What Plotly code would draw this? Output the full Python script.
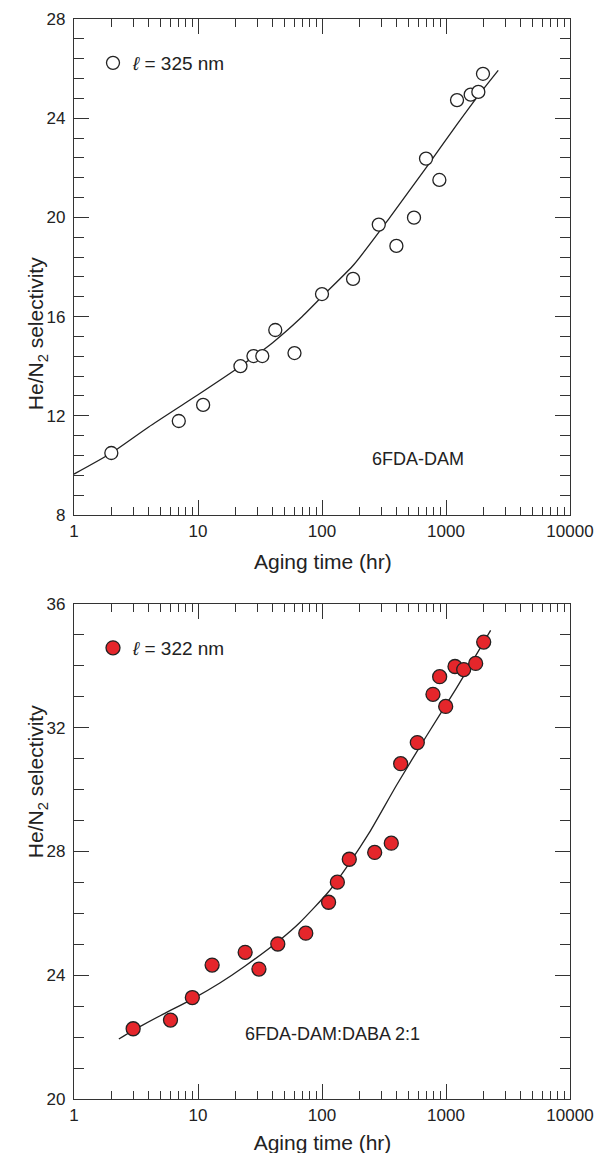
import plotly.graph_objects as go

# ---------------- data ----------------
# Top panel: 6FDA-DAM, l = 325 nm
top_time = [2, 7, 11, 22, 28, 33, 42, 60, 100, 178, 287, 398, 552, 690, 884, 1227, 1582, 1823, 1987]
top_sel = [10.5, 11.79, 12.44, 14.0, 14.41, 14.41, 15.46, 14.53, 16.91, 17.52, 19.71, 18.85, 19.99,
           22.37, 21.51, 24.73, 24.95, 25.06, 25.79]
top_fit_time = [1, 2, 4, 10, 22, 40, 66, 102, 181, 353, 690, 1227, 1880, 2637]
top_fit_sel = [9.65, 10.5, 11.55, 12.85, 14.0, 14.95, 15.9, 16.85, 18.1, 20.0, 22.0, 23.75, 25.0, 25.93]

# Bottom panel: 6FDA-DAM:DABA 2:1, l = 322 nm
bot_time = [3, 6, 9, 13, 24, 31, 44, 74, 113, 133, 166, 266, 362, 431, 587, 785, 889, 994,
            1182, 1389, 1735, 2014]
bot_sel = [22.27, 22.55, 23.28, 24.33, 24.74, 24.2, 25.01, 25.36, 26.36, 27.01, 27.75, 27.97,
           28.27, 30.84, 31.52, 33.08, 33.65, 32.69, 33.98, 33.88, 34.08, 34.77]
bot_fit_time = [2.3, 3, 5, 9, 15, 24, 46, 66, 113, 166, 240, 400, 700, 1200, 2290]
bot_fit_sel = [21.94, 22.22, 22.7, 23.23, 23.75, 24.3, 25.15, 25.7, 26.7, 27.62, 28.6, 30.15, 31.75, 33.25, 35.15]

x_tickvals = [1, 10, 100, 1000, 10000]
x_ticktext = ["1", "10", "100", "1000", "10000"]
top_label = "6FDA-DAM"
bot_label = "6FDA-DAM:DABA 2:1"
top_legend = "<i>ℓ</i> = 325 nm"
bot_legend = "<i>ℓ</i> = 322 nm"
x_title = "Aging time (hr)"
y_title = "He/N<sub>2</sub> selectivity"

# ---------------- styling ----------------
FONT = "Liberation Sans, Arial, Helvetica, sans-serif"
AX = "#333333"
TXT = "#222222"
RED = "#e5262b"

minor_vals = []
for dec in [1, 10, 100, 1000]:
    for k in range(2, 10):
        minor_vals.append(k * dec)

fig = go.Figure()

fig.add_trace(go.Scatter(x=top_fit_time, y=top_fit_sel, mode="lines",
                         line=dict(color="#222", width=1.3, shape="spline", smoothing=0.6),
                         xaxis="x", yaxis="y", showlegend=False, hoverinfo="skip"))
fig.add_trace(go.Scatter(x=top_time, y=top_sel, mode="markers", name=top_legend,
                         marker=dict(symbol="circle", size=13, color="white", line=dict(color="#222", width=1.3)),
                         xaxis="x", yaxis="y", legend="legend"))
fig.add_trace(go.Scatter(x=bot_fit_time, y=bot_fit_sel, mode="lines",
                         line=dict(color="#222", width=1.3, shape="spline", smoothing=0.6),
                         xaxis="x2", yaxis="y2", showlegend=False, hoverinfo="skip"))
fig.add_trace(go.Scatter(x=bot_time, y=bot_sel, mode="markers", name=bot_legend,
                         marker=dict(symbol="circle", size=14, color=RED, line=dict(color="#222", width=1.3)),
                         xaxis="x2", yaxis="y2", legend="legend2"))

def xaxis(anchor):
    return dict(type="log", range=[0, 4], domain=[0, 1], anchor=anchor, automargin=False,
                showline=True, linecolor=AX, linewidth=1.3, mirror="ticks",
                ticks="inside", ticklen=15, tickwidth=1.2, tickcolor=AX,
                tickvals=x_tickvals, ticktext=x_ticktext,
                minor=dict(ticks="inside", ticklen=8, tickwidth=1.2, tickcolor=AX, tickvals=minor_vals, showgrid=False),
                showgrid=False, zeroline=False,
                tickfont=dict(size=17, color=TXT, family=FONT))

def yaxis(anchor, rng, dminor, domain):
    return dict(range=rng, domain=domain, anchor=anchor, dtick=4, tick0=0, automargin=False,
                showline=True, linecolor=AX, linewidth=1.3, mirror="ticks",
                ticks="inside", ticklen=15, tickwidth=1.2, tickcolor=AX,
                minor=dict(ticks="inside", ticklen=10, tickwidth=1.2, tickcolor=AX, dtick=dminor, tick0=0, showgrid=False),
                showgrid=False, zeroline=False, ticklabelstandoff=4,
                tickfont=dict(size=17, color=TXT, family=FONT))

H = 1080.0
def py(pix):
    return (1099 - pix) / H
def px(pix):
    return (pix - 74) / 496.0

fig.update_layout(
    width=599, height=1153,
    margin=dict(l=74, r=29, t=19, b=54, autoexpand=False),
    paper_bgcolor="white", plot_bgcolor="white",
    font=dict(family=FONT, color=TXT),
    xaxis=xaxis("y"),
    yaxis=yaxis("x", [8, 28], 0.8, [py(515), 1]),
    xaxis2=xaxis("y2"),
    yaxis2=yaxis("x2", [20, 36], 1, [0, py(604)]),
    legend=dict(x=px(93), y=py(44), xanchor="left", yanchor="top", bgcolor="rgba(0,0,0,0)",
                font=dict(size=19, color=TXT, family=FONT)),
    legend2=dict(x=px(93), y=py(629), xanchor="left", yanchor="top", bgcolor="rgba(0,0,0,0)",
                 font=dict(size=19, color=TXT, family=FONT)),
    annotations=[
        dict(text=top_label, x=px(465.5), y=py(459), xref="paper", yref="paper", showarrow=False,
             font=dict(size=18, color=TXT, family=FONT)),
        dict(text=bot_label, x=px(422), y=py(1045.7), xref="paper", yref="paper", showarrow=False,
             font=dict(size=18, color=TXT, family=FONT)),
        dict(text=x_title, x=px(322.5), y=py(561.7), xref="paper", yref="paper", showarrow=False,
             font=dict(size=21, color=TXT, family=FONT)),
        dict(text=y_title, x=px(21.7), y=py(255), xref="paper", yref="paper", showarrow=False,
             textangle=-90, font=dict(size=21, color=TXT, family=FONT)),
        dict(text=y_title, x=px(21.7), y=py(860), xref="paper", yref="paper", showarrow=False,
             textangle=-90, font=dict(size=21, color=TXT, family=FONT)),
    ],
    shapes=[
        dict(type="rect", xref="paper", yref="paper",
             x0=px(250), x1=px(395), y0=py(1153), y1=py(1128),
             line=dict(width=0), fillcolor="rgba(0,0,0,0)",
             label=dict(text=x_title, textposition="middle center",
                        font=dict(size=21, color=TXT, family=FONT))),
    ],
)

fig.write_html("out.html")
